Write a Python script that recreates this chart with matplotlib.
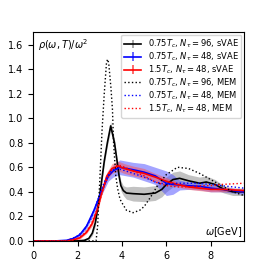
import numpy as np
import matplotlib
matplotlib.use('Agg')
import matplotlib.pyplot as plt

# sVAE, 0.75Tc, N_tau = 96
w_k96 = [0, 2.0, 2.3, 2.5, 2.66, 2.8, 2.89, 3.0, 3.11, 3.2, 3.34, 3.49, 3.66, 3.77, 3.87, 3.95, 4.06,
         4.2, 4.5, 5.0, 5.5, 5.8, 6.0, 6.3, 6.6, 7.0, 7.5, 7.8, 8.2, 8.6, 9.0, 9.5]
r_k96 = [0, 0, 0.005, 0.02, 0.063, 0.15, 0.254, 0.38, 0.527, 0.65, 0.80, 0.937, 0.80, 0.66, 0.527, 0.45, 0.41,
         0.39, 0.385, 0.38, 0.39, 0.42, 0.46, 0.5, 0.51, 0.49, 0.47, 0.48, 0.46, 0.42, 0.40, 0.40]
e_k96 = [0, 0, 0.005, 0.01, 0.02, 0.03, 0.03, 0.03, 0.03, 0.03, 0.03, 0.035, 0.03, 0.03, 0.03, 0.04, 0.04,
         0.05, 0.06, 0.06, 0.06, 0.06, 0.06, 0.06, 0.06, 0.05, 0.05, 0.05, 0.04, 0.03, 0.03, 0.03]

# sVAE, 0.75Tc, N_tau = 48
w_b48 = [0, 1.0, 1.5, 1.8, 2.1, 2.4, 2.74, 3.04, 3.38, 3.6, 3.9, 4.2, 4.5, 5.0, 5.5, 6.0, 6.3,
         6.6, 7.0, 7.5, 8.0, 8.5, 9.0, 9.5]
r_b48 = [0, 0, 0.005, 0.02, 0.05, 0.12, 0.25, 0.39, 0.527, 0.57, 0.60, 0.59, 0.58, 0.56, 0.53, 0.47, 0.46,
         0.455, 0.45, 0.445, 0.43, 0.42, 0.41, 0.40]
e_b48 = [0, 0, 0.005, 0.01, 0.02, 0.02, 0.03, 0.03, 0.04, 0.05, 0.06, 0.06, 0.06, 0.07, 0.07, 0.1, 0.08,
         0.04, 0.03, 0.03, 0.03, 0.02, 0.02, 0.02]

# sVAE, 1.5Tc, N_tau = 48
w_r48 = [0, 1.5, 1.8, 2.1, 2.4, 2.65, 2.89, 3.08, 3.31, 3.55, 3.83, 4.1, 4.5, 5.0, 5.5, 6.0, 6.5,
         7.0, 7.5, 8.0, 8.5, 9.0, 9.5]
r_r48 = [0, 0, 0.008, 0.025, 0.07, 0.14, 0.254, 0.39, 0.527, 0.59, 0.61, 0.59, 0.57, 0.55, 0.52, 0.486, 0.46,
         0.44, 0.43, 0.42, 0.42, 0.415, 0.41]
e_r48 = [0, 0, 0.005, 0.01, 0.01, 0.02, 0.02, 0.02, 0.03, 0.04, 0.04, 0.04, 0.04, 0.04, 0.03, 0.03, 0.02,
         0.02, 0.02, 0.02, 0.02, 0.015, 0.015]

# MEM results
w_mk96 = [0, 2.83, 2.9, 3.0, 3.1, 3.2, 3.3, 3.35, 3.4, 3.5, 3.57, 3.62, 3.72, 3.8, 3.91, 4.0, 4.2, 4.5,
          4.8, 5.0, 5.3, 5.6, 6.0, 6.5, 7.0, 7.5, 8.0, 8.5, 9.0, 9.5]
r_mk96 = [0, 0, 0.12, 0.5, 0.9, 1.2, 1.45, 1.48, 1.45, 1.25, 1.07, 0.8, 0.53, 0.43, 0.34, 0.31, 0.25, 0.23,
          0.25, 0.28, 0.36, 0.45, 0.54, 0.6, 0.59, 0.55, 0.5, 0.45, 0.40, 0.37]

w_mb48 = [0, 1.5, 2.0, 2.3, 2.6, 2.9, 3.2, 3.5, 3.7, 4.0, 4.5, 5.0, 5.5, 6.0, 6.5, 7.0, 7.5, 8.0, 8.5, 9.0, 9.5]
r_mb48 = [0, 0, 0.04, 0.09, 0.18, 0.33, 0.48, 0.57, 0.59, 0.58, 0.55, 0.52, 0.48, 0.46, 0.47, 0.47, 0.47, 0.46, 0.45, 0.44, 0.43]

w_mr48 = [0, 1.5, 2.0, 2.3, 2.6, 2.9, 3.2, 3.5, 3.8, 4.0, 4.5, 5.0, 5.5, 6.0, 6.5, 7.0, 7.5, 8.0, 8.5, 9.0, 9.5]
r_mr48 = [0, 0, 0.02, 0.06, 0.13, 0.27, 0.45, 0.57, 0.62, 0.61, 0.57, 0.53, 0.48, 0.45, 0.44, 0.44, 0.45, 0.45, 0.46, 0.465, 0.47]

labels = [r"$0.75T_c$, $N_\tau=96$, sVAE",
          r"$0.75T_c$, $N_\tau=48$, sVAE",
          r"$1.5T_c$, $N_\tau=48$, sVAE",
          r"$0.75T_c$, $N_\tau=96$, MEM",
          r"$0.75T_c$, $N_\tau=48$, MEM",
          r"$1.5T_c$, $N_\tau=48$, MEM"]

plt.rcParams['font.size'] = 7
fig = plt.figure(figsize=(2.71, 2.71), dpi=100)
ax = fig.add_axes([0.123, 0.111, 0.777, 0.77])

svae = [(w_k96, r_k96, e_k96, 'k', '#9a9a9a', 0.6),
        (w_b48, r_b48, e_b48, 'b', '#4a4aff', 0.5),
        (w_r48, r_r48, e_r48, 'r', '#ff5050', 0.5)]
handles = []
for (w, r, e, c, ec, a), lab in zip(svae, labels[:3]):
    w = np.array(w); r = np.array(r); e = np.array(e)
    ax.fill_between(w, r - e, r + e, color=ec, alpha=a, lw=0)
    ax.plot(w, r, color=c, lw=1.2)
    h = ax.errorbar([np.nan], [np.nan], yerr=[0.1], color=c, ecolor=ec, lw=1.2, capsize=0, label=lab)
    handles.append(h)

for (w, r, c), lab in zip([(w_mk96, r_mk96, 'k'), (w_mb48, r_mb48, 'b'), (w_mr48, r_mr48, 'r')], labels[3:]):
    h, = ax.plot(w, r, ':', color=c, lw=1.0, label=lab)
    handles.append(h)

ax.set_xlim(0, 9.5)
ax.set_ylim(0, 1.7)
ax.set_xticks([0, 2, 4, 6, 8])
ax.set_yticks(np.arange(0, 1.61, 0.2))
ax.text(0.02, 0.975, r"$\rho(\omega,T)/\omega^2$", transform=ax.transAxes, ha='left', va='top')
ax.text(0.99, 0.01, r"$\omega$[GeV]", transform=ax.transAxes, ha='right', va='bottom')
ax.legend(handles=handles, loc='upper right', fontsize=6, borderaxespad=0.3,
          labelspacing=0.05, borderpad=0.35)

fig.savefig('out.png', dpi=100)
